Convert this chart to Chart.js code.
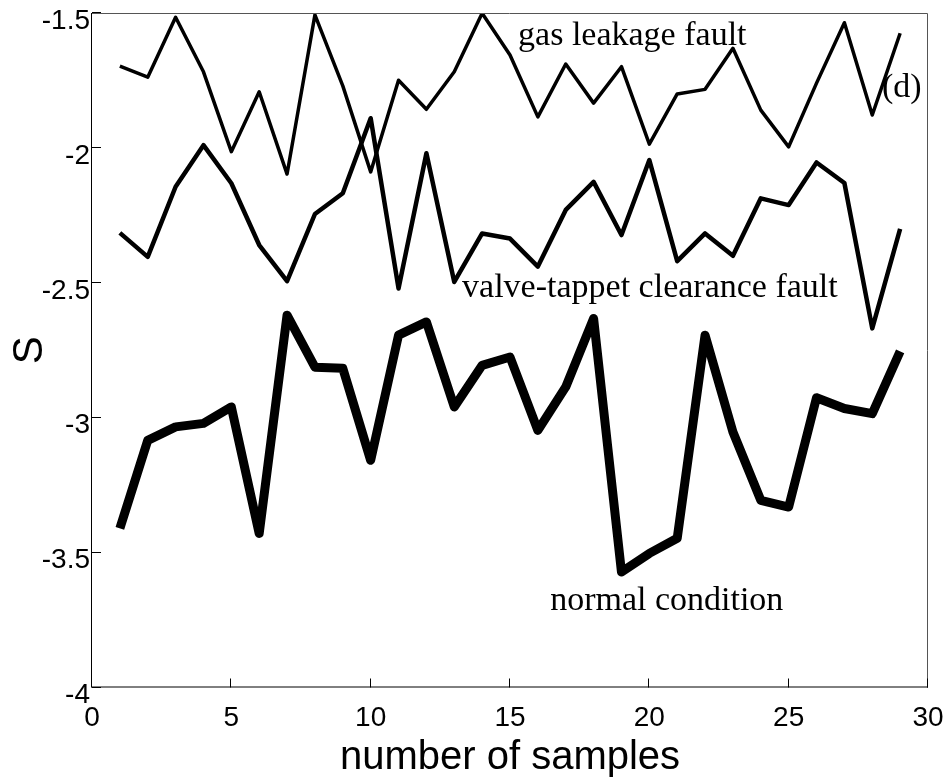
<!DOCTYPE html>
<html>
<head>
<meta charset="utf-8">
<script src="https://cdn.jsdelivr.net/npm/chart.js@4.4.1/dist/chart.umd.min.js"></script>
<style>
  html, body { margin: 0; padding: 0; background: #ffffff; }
  canvas { display: block; }
</style>
</head>
<body>
<canvas id="c" width="949" height="782"></canvas>
<script>
// ---- data ----
const samples = [1, 2, 3, 4, 5, 6, 7, 8, 9, 10, 11, 12, 13, 14, 15, 16, 17, 18, 19, 20, 21, 22, 23, 24, 25, 26, 27, 28, 29];

const gasLeakage = [-1.697, -1.738, -1.516, -1.718, -2.014, -1.792, -2.097, -1.507, -1.77, -2.089,
                    -1.749, -1.857, -1.718, -1.501, -1.656, -1.885, -1.689, -1.834, -1.699, -1.986,
                    -1.80, -1.783, -1.631, -1.86, -1.996, -1.76, -1.536, -1.878, -1.575];

const valveTappet = [-2.315, -2.404, -2.144, -1.99, -2.131, -2.36, -2.494, -2.245, -2.168, -1.89,
                     -2.521, -2.02, -2.497, -2.317, -2.336, -2.44, -2.23, -2.126, -2.323, -2.045,
                     -2.42, -2.317, -2.40, -2.187, -2.212, -2.054, -2.13, -2.669, -2.30];

const normalCondition = [-3.41, -3.084, -3.034, -3.021, -2.96, -3.429, -2.62, -2.813, -2.817, -3.158,
                         -2.694, -2.645, -2.96, -2.806, -2.775, -3.047, -2.886, -2.632, -3.572, -3.503,
                         -3.447, -2.694, -3.053, -3.306, -3.331, -2.926, -2.966, -2.985, -2.754];

const xTickValues = [0, 5, 10, 15, 20, 25, 30];
const yTickValues = [-4, -3.5, -3, -2.5, -2, -1.5];

const seriesLabels = ['gas leakage fault', 'valve-tappet clearance fault', 'normal condition'];
const panelLabel = '(d)';
const xTitle = 'number of samples';
const yTitle = 'S';

// ---- build datasets ----
const toPoints = (vals) => samples.map((s, i) => ({ x: s, y: vals[i] }));

// annotation anchors (in data units)
const labelAnchors = [
  { text: seriesLabels[0], x: 15.29, y: -1.619 },
  { text: panelLabel,      x: 28.35, y: -1.811 },
  { text: seriesLabels[1], x: 13.28, y: -2.553 },
  { text: seriesLabels[2], x: 16.44, y: -3.713 }
];

const frameAndTicks = {
  id: 'frameAndTicks',
  afterDraw(chart) {
    const { ctx, chartArea: a, scales } = chart;
    const xs = scales.x, ys = scales.y;
    ctx.save();
    ctx.lineWidth = 1;
    // top and right (lighter)
    ctx.strokeStyle = '#555555';
    ctx.beginPath();
    ctx.moveTo(a.left - 0.5, a.top + 0.5);
    ctx.lineTo(a.right - 0.5, a.top + 0.5);
    ctx.lineTo(a.right - 0.5, a.bottom);
    ctx.stroke();
    // left and bottom
    ctx.strokeStyle = '#000000';
    ctx.beginPath();
    ctx.moveTo(a.left - 0.5, a.top);
    ctx.lineTo(a.left - 0.5, a.bottom - 0.5);
    ctx.lineTo(a.right, a.bottom - 0.5);
    ctx.stroke();
    // inward ticks
    ctx.beginPath();
    yTickValues.forEach(v => {
      const py = Math.round(ys.getPixelForValue(v)) - 0.5;
      ctx.moveTo(a.left, py);
      ctx.lineTo(a.left + 9, py);
    });
    xTickValues.forEach(v => {
      const px = Math.round(xs.getPixelForValue(v)) - 0.5;
      ctx.moveTo(px, a.bottom);
      ctx.lineTo(px, a.bottom - 9);
    });
    ctx.stroke();
    // text annotations
    ctx.fillStyle = '#000000';
    ctx.font = '34px "Liberation Serif", "Times New Roman", serif';
    ctx.textAlign = 'left';
    ctx.textBaseline = 'alphabetic';
    labelAnchors.forEach(l => {
      ctx.fillText(l.text, xs.getPixelForValue(l.x), ys.getPixelForValue(l.y));
    });
    ctx.restore();
  }
};

const tickFont = { family: '"Liberation Sans", Arial, sans-serif', size: 28, lineHeight: 1 };
const fmt = (v) => String(Number(v));

new Chart(document.getElementById('c'), {
  type: 'line',
  data: {
    datasets: [
      { label: seriesLabels[0], data: toPoints(gasLeakage), borderColor: '#000', borderWidth: 3.5,
        borderJoinStyle: 'round', pointRadius: 0, tension: 0, fill: false },
      { label: seriesLabels[1], data: toPoints(valveTappet), borderColor: '#000', borderWidth: 4.5,
        borderJoinStyle: 'round', pointRadius: 0, tension: 0, fill: false },
      { label: seriesLabels[2], data: toPoints(normalCondition), borderColor: '#000', borderWidth: 9,
        borderJoinStyle: 'round', pointRadius: 0, tension: 0, fill: false }
    ]
  },
  options: {
    responsive: false,
    animation: false,
    devicePixelRatio: 1,
    layout: { padding: { top: 13, right: 21, left: 0, bottom: 0 } },
    plugins: { legend: { display: false }, tooltip: { enabled: false } },
    scales: {
      x: {
        type: 'linear', min: 0, max: 30,
        grid: { display: false, drawTicks: false },
        border: { display: false },
        afterBuildTicks: (s) => { s.ticks = xTickValues.map(v => ({ value: v })); },
        ticks: { font: tickFont, color: '#000', padding: 17, maxRotation: 0, autoSkip: false, callback: fmt },
        title: { display: true, text: xTitle, color: '#000',
                 font: { family: '"Liberation Sans", Arial, sans-serif', size: 40, lineHeight: 1.2 },
                 padding: { top: 0, bottom: 0 } },
        afterFit: (s) => { s.height = 94.5; s.paddingLeft = 0; s.paddingRight = 0; s.paddingTop = 0; s.paddingBottom = 0; }
      },
      y: {
        type: 'linear', min: -4, max: -1.5,
        grid: { display: false, drawTicks: false },
        border: { display: false },
        afterBuildTicks: (s) => { s.ticks = yTickValues.map(v => ({ value: v })); },
        ticks: { font: tickFont, color: '#000', padding: 2, labelOffset: 8, autoSkip: false, callback: fmt },
        title: { display: true, text: yTitle, color: '#000',
                 font: { family: '"Liberation Sans", Arial, sans-serif', size: 42, lineHeight: 1.2 },
                 padding: { top: 5, bottom: 0 } },
        afterFit: (s) => { s.width = 92; s.paddingLeft = 0; s.paddingRight = 0; s.paddingTop = 0; s.paddingBottom = 0; }
      }
    }
  },
  plugins: [frameAndTicks]
});
</script>
</body>
</html>
